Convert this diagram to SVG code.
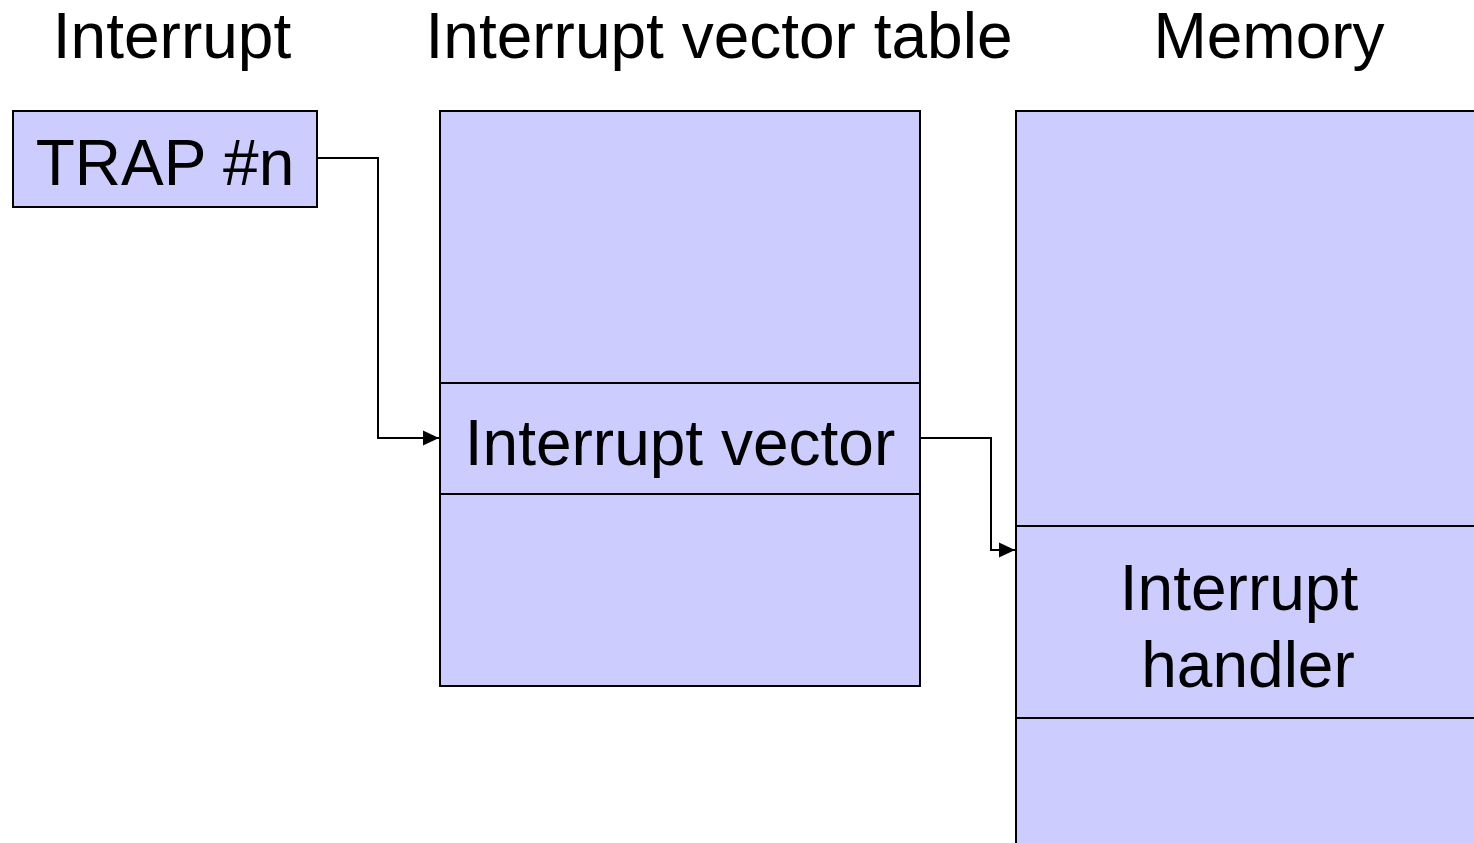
<svg xmlns="http://www.w3.org/2000/svg" width="1474" height="843" viewBox="0 0 1474 843">
  <style>
    .box { fill: #ccccff; stroke: #000; stroke-width: 2; }
    .div { stroke: #000; stroke-width: 2; fill: none; }
    .lbl { font-family: "Liberation Sans", Arial, sans-serif; font-size: 64px; fill: #000; text-anchor: middle; }
    .wire { stroke: #000; stroke-width: 2; fill: none; }
  </style>
  <defs>
    <marker id="arrow" markerWidth="16" markerHeight="16" refX="16" refY="8" orient="auto" markerUnits="userSpaceOnUse">
      <path d="M0,0.5 L16,8 L0,15.5 Z" fill="#000"/>
    </marker>
  </defs>
  <rect width="1474" height="843" fill="#fff"/>

  <!-- column headings -->
  <g id="headings">
    <text class="lbl" x="172" y="58">Interrupt</text>
    <text class="lbl" x="719" y="58">Interrupt vector table</text>
    <text class="lbl" x="1269" y="58">Memory</text>
  </g>

  <!-- trap instruction -->
  <g id="trap">
    <rect class="box" x="13" y="111" width="304" height="96"/>
    <text class="lbl" x="165" y="185">TRAP #n</text>
  </g>

  <!-- vector table -->
  <g id="vector-table">
    <rect class="box" x="440" y="111" width="480" height="575"/>
    <line class="div" x1="440" y1="383" x2="920" y2="383"/>
    <line class="div" x1="440" y1="494" x2="920" y2="494"/>
    <text class="lbl" x="680" y="465">Interrupt vector</text>
  </g>

  <!-- memory -->
  <g id="memory">
    <rect class="box" x="1016" y="111" width="470" height="745"/>
    <line class="div" x1="1016" y1="526" x2="1474" y2="526"/>
    <line class="div" x1="1016" y1="718" x2="1474" y2="718"/>
    <text class="lbl" x="1239" y="610">Interrupt</text>
    <text class="lbl" x="1248" y="687">handler</text>
  </g>

  <!-- connectors -->
  <g id="connectors">
    <polyline class="wire" points="317,158 378,158 378,438 439,438" marker-end="url(#arrow)"/>
    <polyline class="wire" points="920,438 991,438 991,550 1015,550" marker-end="url(#arrow)"/>
  </g>
</svg>
